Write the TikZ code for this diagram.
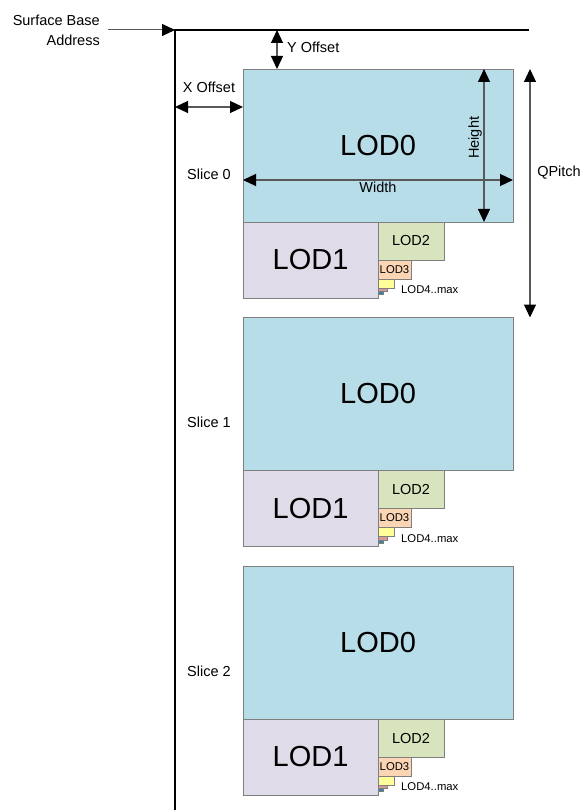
\documentclass[tikz,border=0pt]{standalone}
\usepackage{fontspec}
\setmainfont{Liberation Sans}
\usepackage{tikz}
\usetikzlibrary{arrows.meta,positioning,calc}
\definecolor{lodBlue}{HTML}{B7DDE8}
\definecolor{lodPurple}{HTML}{E0DBE8}
\definecolor{lodGreen}{HTML}{D7E4BD}
\definecolor{lodPeach}{HTML}{FCD5B5}
\definecolor{lodYellow}{HTML}{FFFF99}
\definecolor{lodRed}{HTML}{D99795}
\definecolor{lodTeal}{HTML}{31859C}
\definecolor{lodEdge}{HTML}{7F7F7F}
\definecolor{dimGray}{HTML}{595959}

\begin{document}
\begin{tikzpicture}[x=1pt,y=-1pt,font=\fontsize{14.5}{20}\selectfont,
  lod/.style={draw=lodEdge, line width=0.8pt, inner sep=0pt, outer sep=0pt, anchor=north west},
  big/.style={font=\fontsize{29}{32}\selectfont},
  tiny/.style={font=\fontsize{11.3}{13}\selectfont},
  dim/.style={draw=dimGray, line width=1.2pt,
    {Triangle[color=black,length=13pt,width=12pt]}-{Triangle[color=black,length=13pt,width=12pt]}},
  ptr/.style={draw=dimGray, line width=1pt, -{Triangle[color=black,length=13pt,width=12pt]}},
  wall/.style={draw=black, line width=2.6pt}]
\useasboundingbox (0,0) rectangle (582,810);
% surface frame
\coordinate (origin) at (175,30);
\coordinate (topend) at (529,30);
\coordinate (botend) at (175,814);
\draw[wall] (topend) -- (origin) -- (botend);
\node[align=right, anchor=east, inner sep=0pt] (sba) at (100,30) {Surface Base\\Address};
\draw[ptr] ([xshift=8pt]sba.east) -- (origin);
% three array slices, each LOD0 + mip chain
\foreach \s in {0,1,2} {
\begin{scope}[shift={(0,\s*248.5)}]
\node[lod, fill=lodBlue, big, minimum width=270pt, minimum height=153pt] (s\s-lod0) at (243,69) {LOD0};
\node[lod, fill=lodPurple, big, minimum width=135pt, minimum height=76pt] (s\s-lod1) at (s\s-lod0.south west) {LOD1};
\node[lod, fill=lodGreen, minimum width=66pt, minimum height=38pt] (s\s-lod2) at (s\s-lod1.north east) {LOD2};
\node[lod, fill=lodPeach, tiny, minimum width=33pt, minimum height=19pt] (s\s-lod3) at (s\s-lod2.south west) {LOD3};
\node[lod, fill=lodYellow, minimum width=16pt, minimum height=9pt] (s\s-lod4) at (s\s-lod3.south west) {};
\node[lod, fill=lodRed, minimum width=9pt, minimum height=3.5pt] (s\s-lod5) at (s\s-lod4.south west) {};
\node[lod, fill=lodTeal, minimum width=5pt, minimum height=3pt] (s\s-lod6) at (s\s-lod5.south west) {};
\node[tiny, anchor=west, inner sep=0pt] (s\s-lodn) at (401,290) {LOD4..max};
\node (s\s-name) at (209,174) {Slice \s};
\end{scope}
}
% offsets and sizes of slice 0
\coordinate (yoff) at (277,30);
\draw[dim] (yoff) -- (yoff |- s0-lod0.north);
\node[anchor=west, inner sep=0pt] (ylab) at (287,47) {Y Offset};
\coordinate (xoff) at (175,107);
\draw[dim] (xoff) -- (xoff -| s0-lod0.west);
\node (xlab) at (209,87) {X Offset};
\coordinate (hgt) at (484,69);
\draw[dim] (hgt) -- (hgt |- s0-lod0.south)
  node[pos=0.45, rotate=90, anchor=south, inner sep=1.5pt] {Height};
\coordinate (wid) at (243,180);
\draw[dim] (wid) -- (wid -| s0-lod0.east)
  node[midway, below, inner sep=1.5pt] {Width};
\coordinate (qp) at (530,69);
\draw[dim] (qp) -- (qp |- s1-lod0.north);
\node (qlab) at (559,173) {QPitch};
\end{tikzpicture}
\end{document}
